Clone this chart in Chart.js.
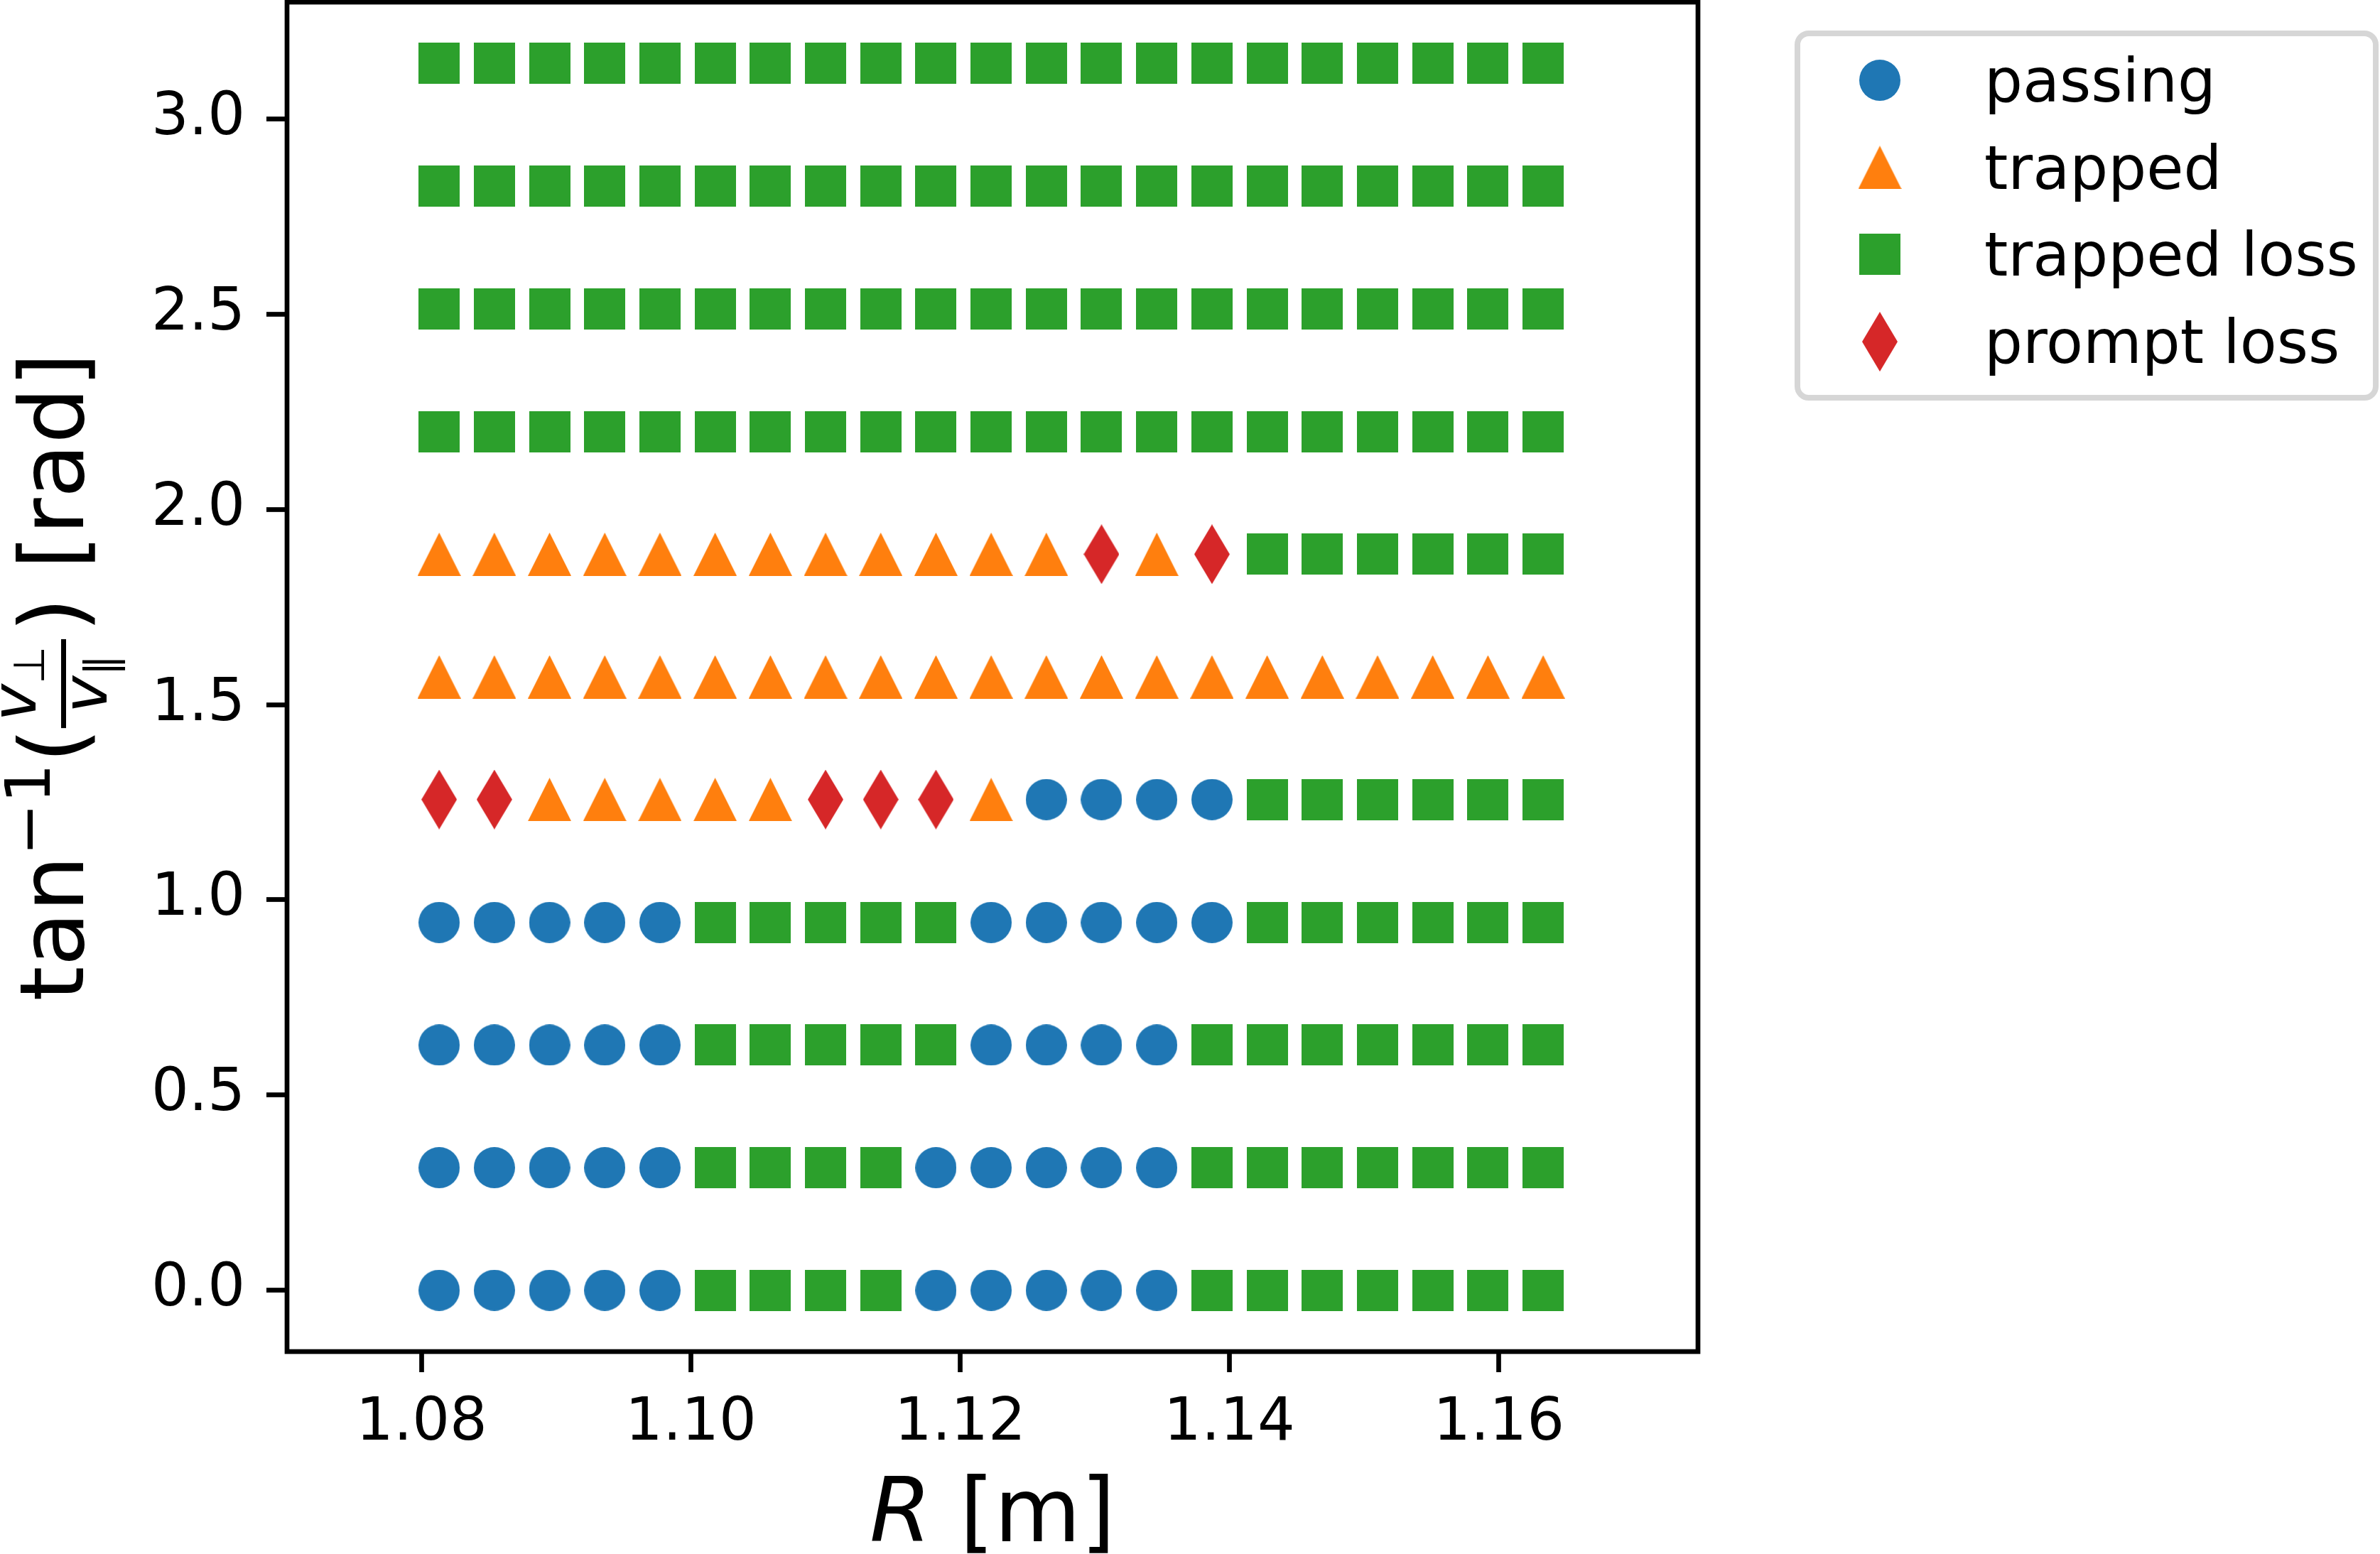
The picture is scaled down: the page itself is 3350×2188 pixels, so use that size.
<!DOCTYPE html>
<html>
<head>
<meta charset="utf-8">
<title>orbit classes</title>
<script src="https://cdn.jsdelivr.net/npm/chart.js@4/dist/chart.umd.min.js"></script>
<style>
  html, body { margin: 0; padding: 0; background: #fff; }
  #orbits { display: block; }
</style>
</head>
<body>
<canvas id="orbits" width="3350" height="2188" style="width:3350px;height:2188px"></canvas>
<script>
// starting major radius of each launched particle [m]
var rValues = [1.0813, 1.0854, 1.0895, 1.0936, 1.0977, 1.1018, 1.1059, 1.1100, 1.1141, 1.1182, 1.1223,
               1.1264, 1.1305, 1.1346, 1.1387, 1.1428, 1.1469, 1.1510, 1.1551, 1.1592, 1.1633];
// pitch angle tan^-1(v_perp / v_par) [rad]
var pitchValues = [0.000, 0.314, 0.628, 0.942, 1.257, 1.571, 1.885, 2.199, 2.513, 2.827, 3.142];
// orbit class per pitch row (bottom row first), one letter per R column
// P = passing, T = trapped, L = trapped loss, D = prompt loss
var classRows = [
  'PPPPPLLLLPPPPPLLLLLLL',
  'PPPPPLLLLPPPPPLLLLLLL',
  'PPPPPLLLLLPPPPLLLLLLL',
  'PPPPPLLLLLPPPPPLLLLLL',
  'DDTTTTTDDDTPPPPLLLLLL',
  'TTTTTTTTTTTTTTTTTTTTT',
  'TTTTTTTTTTTTDTDLLLLLL',
  'LLLLLLLLLLLLLLLLLLLLL',
  'LLLLLLLLLLLLLLLLLLLLL',
  'LLLLLLLLLLLLLLLLLLLLL',
  'LLLLLLLLLLLLLLLLLLLLL'
];
var classCodes = ['P', 'T', 'L', 'D'];
var classNames = ['passing', 'trapped', 'trapped loss', 'prompt loss'];
var classColors = ['#1f77b4', '#ff7f0e', '#2ca02c', '#d62728'];
var xTicks = [1.08, 1.10, 1.12, 1.14, 1.16];
var yTicks = [0.0, 0.5, 1.0, 1.5, 2.0, 2.5, 3.0];

var FONT = '"DejaVu Sans", "Liberation Sans", sans-serif';

// marker sprites, matplotlib style o ^ s d
function makeMarker(kind, color) {
  var c = document.createElement('canvas');
  var w = 58, h = 58;
  if (kind === 'T') { w = 61; h = 61; }
  if (kind === 'D') { w = 50; h = 84; }
  c.width = w; c.height = h;
  var g = c.getContext('2d');
  g.fillStyle = color;
  g.beginPath();
  if (kind === 'P') {
    g.arc(w / 2, h / 2, w / 2, 0, Math.PI * 2);
  } else if (kind === 'L') {
    g.rect(0, 0, w, h);
  } else if (kind === 'T') {
    g.moveTo(w / 2, 0); g.lineTo(w, h); g.lineTo(0, h);
  } else {
    g.moveTo(w / 2, 0); g.lineTo(w, h / 2); g.lineTo(w / 2, h); g.lineTo(0, h / 2);
  }
  g.closePath();
  g.fill();
  return c;
}

var markers = classCodes.map(function(code, i) { return makeMarker(code, classColors[i]); });

var datasets = classCodes.map(function(code, i) {
  var pts = [];
  for (var row = 0; row < classRows.length; row++) {
    for (var col = 0; col < rValues.length; col++) {
      if (classRows[row].charAt(col) === code) {
        pts.push({x: rValues[col], y: pitchValues[row]});
      }
    }
  }
  return {
    label: classNames[i],
    data: pts,
    pointStyle: markers[i],
    backgroundColor: classColors[i],
    borderColor: classColors[i],
    showLine: false
  };
});

// axes frame on all four sides
var framePlugin = {
  id: 'frame',
  afterDraw: function(chart) {
    var a = chart.chartArea, ctx = chart.ctx;
    ctx.save();
    ctx.strokeStyle = '#000';
    ctx.lineWidth = 6.7;
    ctx.strokeRect(a.left, a.top, a.right - a.left, a.bottom - a.top);
    ctx.restore();
  }
};

// axis titles, the y one with a stacked fraction
var titlesPlugin = {
  id: 'titles',
  afterDraw: function(chart) {
    var a = chart.chartArea, ctx = chart.ctx;
    var big = 125, mid = 88, small = 61;
    ctx.save();
    ctx.fillStyle = '#000';
    ctx.textBaseline = 'alphabetic';
    ctx.textAlign = 'left';

    // x title: R [m]
    ctx.font = 'italic ' + big + 'px ' + FONT;
    var wR = ctx.measureText('R').width;
    ctx.font = big + 'px ' + FONT;
    var wM = ctx.measureText(' [m]').width;
    var x0 = (a.left + a.right) / 2 - (wR + wM) / 2;
    ctx.font = 'italic ' + big + 'px ' + FONT;
    ctx.fillText('R', x0, 2170);
    ctx.font = big + 'px ' + FONT;
    ctx.fillText(' [m]', x0 + wR, 2170);

    // y title: tan^-1(v_perp / v_par) [rad]
    ctx.font = big + 'px ' + FONT;
    var wTan = ctx.measureText('tan').width;
    var wParen = ctx.measureText('(').width;
    var wRad = ctx.measureText(' [rad]').width;
    ctx.font = mid + 'px ' + FONT;
    var wSup = ctx.measureText('\u22121').width;
    ctx.font = 'italic ' + mid + 'px ' + FONT;
    var wV = ctx.measureText('v').width;
    ctx.font = small + 'px ' + FONT;
    var wPerp = ctx.measureText('\u22a5').width;
    var wPar = ctx.measureText('\u2225').width;
    var wNum = wV + wPerp, wDen = wV + wPar;
    var wBar = Math.max(wNum, wDen) + 20;
    var xSup = wTan;
    var xOpen = xSup + wSup + 1;
    var xBar = xOpen + wParen;
    var xClose = xBar + wBar + 10;
    var xRad = xClose + wParen;
    var total = xRad + wRad;

    ctx.translate(117, (a.top + a.bottom) / 2 + total / 2);
    ctx.rotate(-Math.PI / 2);
    ctx.font = big + 'px ' + FONT;
    ctx.fillText('tan', 0, 0);
    ctx.fillText('(', xOpen, 0);
    ctx.fillText(')', xClose, 0);
    ctx.fillText(' [rad]', xRad, 0);
    ctx.font = mid + 'px ' + FONT;
    ctx.fillText('\u22121', xSup, -47);
    ctx.fillRect(xBar, -31, wBar, 7);
    var xn = xBar + (wBar - wNum) / 2;
    var xd = xBar + (wBar - wDen) / 2;
    ctx.font = 'italic ' + mid + 'px ' + FONT;
    ctx.fillText('v', xn, -67);
    ctx.fillText('v', xd, 33);
    ctx.font = small + 'px ' + FONT;
    ctx.fillText('\u22a5', xn + wV, -55);
    ctx.fillText('\u2225', xd + wV, 46);
    ctx.restore();
  }
};

// legend box outside the axes, rounded frame like matplotlib
var legendPlugin = {
  id: 'sideLegend',
  afterDraw: function(chart) {
    var ctx = chart.ctx;
    var left = 2530, top = 47, right = 3344, bottom = 560, r = 16;
    ctx.save();
    ctx.beginPath();
    ctx.moveTo(left + r, top);
    ctx.arcTo(right, top, right, bottom, r);
    ctx.arcTo(right, bottom, left, bottom, r);
    ctx.arcTo(left, bottom, left, top, r);
    ctx.arcTo(left, top, right, top, r);
    ctx.closePath();
    ctx.fillStyle = 'rgba(255,255,255,0.8)';
    ctx.fill();
    ctx.strokeStyle = '#d6d6d6';
    ctx.lineWidth = 8;
    ctx.stroke();
    ctx.font = '85px ' + FONT;
    ctx.fillStyle = '#000';
    ctx.textBaseline = 'alphabetic';
    chart.data.datasets.forEach(function(ds, i) {
      var cy = 113 + i * 122.7;
      var m = ds.pointStyle;
      ctx.drawImage(m, 2646 - m.width / 2, cy - m.height / 2);
      ctx.fillText(ds.label, 2793, cy + 30);
    });
    ctx.restore();
  }
};

var ctx = document.getElementById('orbits');

var config = {
  type: 'scatter',
  data: { datasets: datasets },
  options: {
    responsive: false,
    animation: false,
    events: [],
    layout: { autoPadding: false, padding: { left: 0, top: 3, right: 960, bottom: 0 } },
    elements: { point: { radius: 29, hoverRadius: 29, borderWidth: 0 } },
    plugins: {
      legend: { display: false },
      tooltip: { enabled: false }
    },
    scales: {
      x: {
        type: 'linear',
        min: 1.0700,
        max: 1.1748,
        afterFit: function(scale) {
          scale.height = 2188 - 1903;
          scale.paddingLeft = 0; scale.paddingRight = 0;
        },
        afterBuildTicks: function(scale) {
          scale.ticks = xTicks.map(function(v) { return {value: v}; });
        },
        ticks: {
          color: '#000',
          font: { family: FONT, size: 83 },
          padding: 24,
          maxRotation: 0,
          autoSkip: false,
          callback: function(v) { return Number(v).toFixed(2); }
        },
        grid: {
          drawOnChartArea: false,
          drawTicks: true,
          tickLength: 29,
          tickWidth: 6.7,
          tickColor: '#000'
        },
        border: { display: false }
      },
      y: {
        type: 'linear',
        min: -0.157,
        max: 3.299,
        afterFit: function(scale) {
          scale.width = 404;
          scale.paddingTop = 0; scale.paddingBottom = 0;
        },
        afterBuildTicks: function(scale) {
          scale.ticks = yTicks.map(function(v) { return {value: v}; });
        },
        ticks: {
          color: '#000',
          font: { family: FONT, size: 83 },
          padding: 30,
          autoSkip: false,
          callback: function(v) { return Number(v).toFixed(1); }
        },
        grid: {
          drawOnChartArea: false,
          drawTicks: true,
          tickLength: 29,
          tickWidth: 6.7,
          tickColor: '#000'
        },
        border: { display: false }
      }
    }
  },
  plugins: [framePlugin, titlesPlugin, legendPlugin]
};

var orbitChart = new Chart(ctx, config);
</script>
</body>
</html>
